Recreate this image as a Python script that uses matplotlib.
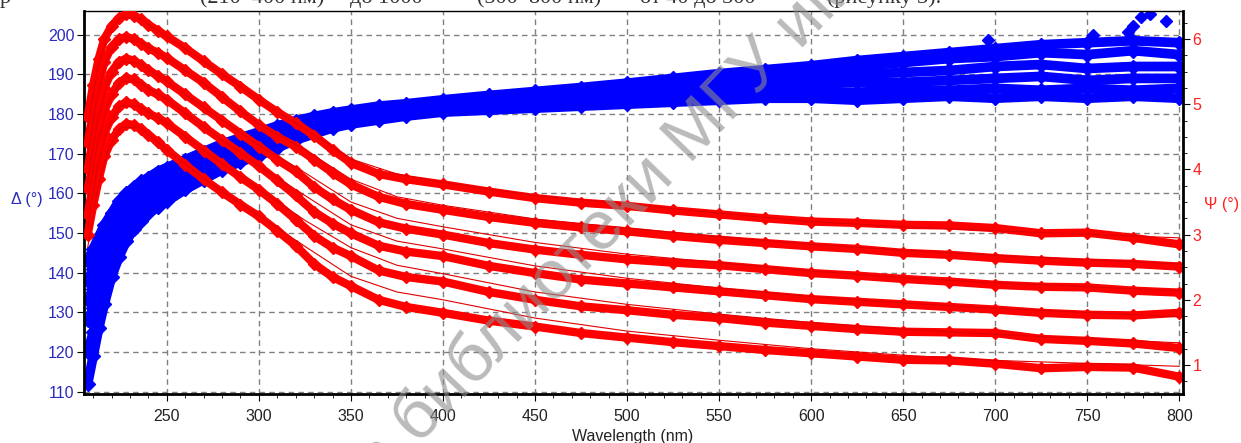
import matplotlib
matplotlib.use('Agg')
import matplotlib.pyplot as plt
from matplotlib.ticker import MultipleLocator

plt.rcParams['font.family'] = ['Liberation Sans', 'DejaVu Sans']

# wavelength grid (nm)
wl = [207, 210, 213, 216, 220, 224, 228, 232, 236, 240, 245, 250, 260, 270, 280,
      290, 300, 310, 320, 330, 340, 350, 365, 380, 400, 425, 450, 475, 500, 525,
      550, 575, 600, 625, 650, 675, 700, 725, 750, 775, 800]

# Delta (deg), measured, six samples
delta_1 = [112, 119, 126, 132, 139, 144, 148, 151, 153, 155, 156.5, 158, 161, 163.5, 166,
           168, 169.5, 171.5, 173.5, 175, 176.5, 177.5, 178.5, 179.5, 180.5, 181, 181.5, 182, 182.5, 183,
           183.5, 184, 184, 183.5, 184, 184.5, 184, 184.5, 184, 184.5, 184]
delta_2 = [120, 125, 131, 136, 142, 146, 150, 152.5, 154.5, 156.5, 158, 159.5, 162.5, 165, 167,
           169, 170.5, 172.5, 174.5, 176, 177.3, 178.2, 179.2, 180, 181, 181.8, 182.5, 183, 183.5, 184.2,
           185, 185.5, 185.5, 185.5, 186, 186, 186.5, 186, 186.5, 186, 186.5]
delta_3 = [128, 131, 136, 140, 145, 149, 152, 154.5, 156.5, 158.5, 160, 161.5, 164, 166.5, 168.5,
           170.5, 172, 173.8, 175.5, 177, 178.2, 179, 180, 180.8, 181.8, 182.6, 183.3, 184, 184.7, 185.5,
           186.3, 187, 187.5, 188, 188, 188.5, 189, 189.5, 188.5, 189, 189]
delta_4 = [133, 136, 140, 144, 148, 152, 154.5, 156.5, 158.5, 160.5, 162, 163.2, 165.7, 168, 170,
           171.8, 173.3, 175, 176.5, 177.8, 178.9, 179.7, 180.7, 181.4, 182.4, 183.3, 184.1, 185, 185.8, 186.7,
           187.6, 188.5, 189.3, 190, 190.5, 191, 192, 192.5, 191.5, 192, 192]
delta_5 = [138, 141, 144.5, 148, 151.5, 155, 157, 159, 160.5, 162, 163.5, 164.8, 167, 169.2, 171.2,
           173, 174.5, 176, 177.5, 178.6, 179.6, 180.4, 181.3, 182, 183, 184, 185, 186, 187, 188,
           189, 190, 191, 192, 193, 194, 194.5, 195.5, 195, 196, 195]
delta_6 = [143, 146, 149, 152, 155, 158, 160, 161.5, 163, 164, 165.5, 166.5, 168.5, 170.5, 172.5,
           174, 175.5, 177, 178.3, 179.4, 180.3, 181, 182, 182.6, 183.6, 184.7, 185.7, 186.7, 187.8, 189,
           190.2, 191.2, 192.2, 193.5, 194.5, 195.5, 196.5, 197.5, 198, 198.5, 198]
delta_out_wl = [696, 753, 772, 775, 779, 784, 793]
delta_out = [198.7, 200, 200.8, 202.1, 204.6, 205.3, 203.4]

# Psi (deg), measured, six samples
psi_1 = [4.8, 5.3, 5.7, 6.0, 6.2, 6.32, 6.38, 6.36, 6.3, 6.22, 6.13, 6.04, 5.86, 5.66, 5.46,
         5.27, 5.07, 4.88, 4.71, 4.52, 4.30, 4.10, 3.93, 3.85, 3.77, 3.66, 3.56, 3.49, 3.44, 3.37,
         3.31, 3.25, 3.20, 3.18, 3.15, 3.14, 3.10, 3.02, 3.03, 2.95, 2.85]
psi_2 = [4.4, 4.9, 5.3, 5.65, 5.88, 6.0, 6.03, 6.0, 5.93, 5.86, 5.79, 5.71, 5.52, 5.33, 5.11,
         4.89, 4.68, 4.50, 4.35, 4.15, 3.95, 3.77, 3.58, 3.47, 3.38, 3.27, 3.18, 3.11, 3.05, 2.98,
         2.92, 2.87, 2.82, 2.78, 2.72, 2.69, 2.64, 2.60, 2.57, 2.55, 2.51]
psi_3 = [4.0, 4.5, 4.9, 5.25, 5.5, 5.65, 5.7, 5.67, 5.6, 5.52, 5.44, 5.35, 5.15, 4.95, 4.75,
         4.55, 4.35, 4.15, 3.97, 3.73, 3.54, 3.38, 3.19, 3.09, 3.00, 2.87, 2.77, 2.69, 2.62, 2.57,
         2.53, 2.47, 2.41, 2.37, 2.32, 2.28, 2.23, 2.20, 2.19, 2.14, 2.11]
psi_4 = [3.7, 4.1, 4.55, 4.9, 5.15, 5.33, 5.4, 5.38, 5.3, 5.22, 5.15, 5.07, 4.86, 4.65, 4.45,
         4.25, 4.05, 3.83, 3.60, 3.35, 3.17, 3.02, 2.83, 2.74, 2.67, 2.52, 2.41, 2.31, 2.25, 2.19,
         2.13, 2.07, 2.01, 1.97, 1.93, 1.89, 1.85, 1.80, 1.77, 1.76, 1.80]
psi_5 = [3.3, 3.8, 4.2, 4.55, 4.8, 4.97, 5.03, 5.0, 4.93, 4.86, 4.79, 4.71, 4.50, 4.29, 4.08,
         3.88, 3.69, 3.47, 3.23, 2.98, 2.80, 2.67, 2.45, 2.35, 2.28, 2.12, 2.00, 1.90, 1.84, 1.77,
         1.72, 1.65, 1.60, 1.55, 1.51, 1.50, 1.49, 1.40, 1.37, 1.33, 1.26]
psi_6 = [3.0, 3.45, 3.85, 4.2, 4.45, 4.62, 4.7, 4.68, 4.62, 4.53, 4.42, 4.30, 4.07, 3.85, 3.65,
         3.46, 3.28, 3.06, 2.83, 2.55, 2.35, 2.21, 2.00, 1.89, 1.80, 1.68, 1.59, 1.49, 1.42, 1.35,
         1.29, 1.23, 1.18, 1.13, 1.08, 1.07, 1.02, 0.95, 0.97, 0.96, 0.82]

# Psi model fits
fit_wl = [207, 212, 218, 225, 235, 250, 275, 300, 325, 350, 375, 400, 450, 500, 550, 600, 650, 700, 800]
fit_1 = [4.6, 5.5, 6.1, 6.33, 6.32, 6.04, 5.56, 5.07, 4.62, 4.16, 3.93, 3.80, 3.60, 3.47, 3.33, 3.20, 3.12, 3.06, 2.95]
fit_2 = [4.2, 5.1, 5.75, 5.98, 5.96, 5.71, 5.22, 4.70, 4.30, 3.85, 3.58, 3.45, 3.24, 3.10, 2.97, 2.85, 2.76, 2.68, 2.55]
fit_3 = [3.8, 4.7, 5.35, 5.65, 5.63, 5.35, 4.85, 4.37, 3.95, 3.50, 3.25, 3.12, 2.88, 2.70, 2.57, 2.44, 2.34, 2.26, 2.14]
fit_4 = [3.5, 4.35, 5.0, 5.35, 5.34, 5.07, 4.55, 4.06, 3.60, 3.15, 2.90, 2.78, 2.52, 2.33, 2.18, 2.05, 1.95, 1.87, 1.74]
fit_5 = [3.1, 4.0, 4.65, 4.98, 4.97, 4.71, 4.19, 3.70, 3.22, 2.80, 2.53, 2.40, 2.12, 1.93, 1.78, 1.65, 1.55, 1.47, 1.34]
fit_6 = [2.8, 3.65, 4.3, 4.64, 4.65, 4.30, 3.76, 3.29, 2.82, 2.36, 2.12, 2.00, 1.72, 1.52, 1.38, 1.25, 1.15, 1.07, 0.98]

W, H = 1241, 443
fig = plt.figure(figsize=(W / 100, H / 100), dpi=100)
ax = fig.add_axes([84 / W, 1 - 394 / H, (1183 - 84) / W, (394 - 11) / H])
ax2 = ax.twinx()

for d in [delta_1, delta_2, delta_3, delta_4, delta_5, delta_6]:
    ax.plot(wl, d, '-', color='#0000ff', lw=7, marker='D', ms=7, zorder=2)
ax.plot(delta_out_wl, delta_out, 'D', color='#0000ff', ms=6, ls='none', zorder=2)

for p in [psi_1, psi_2, psi_3, psi_4, psi_5, psi_6]:
    ax2.plot(wl, p, '-', color='#ff0000', lw=6, marker='D', ms=6, zorder=2)
for f in [fit_1, fit_2, fit_3, fit_4, fit_5, fit_6]:
    ax2.plot(fit_wl, f, '-', color='#e00000', lw=0.8, zorder=3)

ax.set_xlim(205, 802)
ax.set_ylim(109.4, 206)
ax2.set_ylim(0.555, 6.43)

ax.xaxis.set_major_locator(MultipleLocator(50))
ax.xaxis.set_minor_locator(MultipleLocator(10))
ax.yaxis.set_major_locator(MultipleLocator(10))
ax2.yaxis.set_major_locator(MultipleLocator(1))
ax2.yaxis.set_minor_locator(MultipleLocator(0.25))

ax.grid(True, which='major', color='#808080', ls=(0, (4, 3)), lw=1)

ax.tick_params(axis='x', which='major', length=5, labelsize=11.5, labelcolor='#222222', pad=6)
ax.tick_params(axis='x', which='minor', length=3)
ax.tick_params(axis='y', which='major', length=5, labelsize=11.5, labelcolor='#2b2bbf', pad=2)
ax2.tick_params(axis='y', which='major', length=5, labelsize=11.5, labelcolor='#ff2020', pad=2)
ax2.tick_params(axis='y', which='minor', length=3)

for s in ['left', 'bottom']:
    ax.spines[s].set_linewidth(2)
ax.spines['top'].set_linewidth(1)
ax.spines['right'].set_visible(False)
for s in ['left', 'bottom', 'top']:
    ax2.spines[s].set_visible(False)
ax2.spines['right'].set_linewidth(2)

fig.text(27 / W, 1 - 200 / H, 'Δ (°)', color='#2b2bbf', fontsize=11.5, ha='center', va='center')
fig.text(1222 / W, 1 - 205 / H, 'Ψ (°)', color='#ff2020', fontsize=11.5, ha='center', va='center')
fig.text(633 / W, 1 - 436 / H, 'Wavelength (nm)', color='#222222', fontsize=11.5, ha='center', va='center')

# cut-off line of page text above the figure
for x, s in [(0, 'р'), (200, '(210–400 нм)'), (350, 'до 1000'), (477, '(500–800 нм)'),
             (640, 'от 40 до 300'), (827, '(рисунку 3).')]:
    fig.text(x / W, 1 - 3 / H, s, family=['Liberation Serif', 'DejaVu Serif'], fontsize=16,
             ha='left', va='baseline', color='#333333')

# watermark
fig.text(418 / W, 1 - 446 / H, 'библиотеки МГУ им', rotation=46, rotation_mode='anchor',
         ha='left', va='baseline', fontsize=50, color='#8c8c8c', alpha=0.6, zorder=10)
fig.text(418 / W, 1 - 446 / H, 'архив ', rotation=46, rotation_mode='anchor',
         ha='right', va='baseline', fontsize=50, color='#8c8c8c', alpha=0.6, zorder=10)

fig.savefig('out.png', dpi=100)
